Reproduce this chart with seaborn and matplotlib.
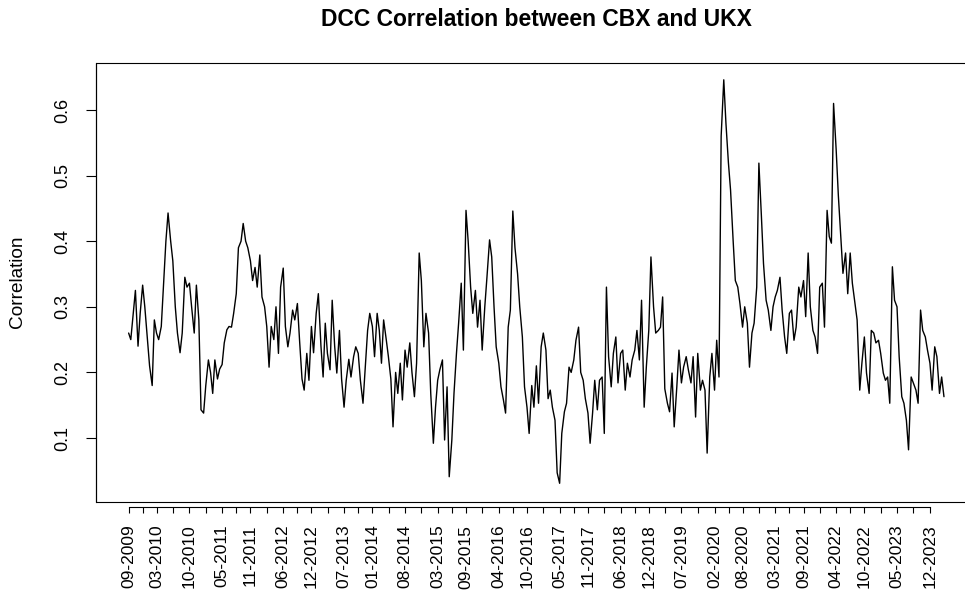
import pandas as pd
import matplotlib
matplotlib.use('Agg')
import matplotlib.pyplot as plt
import matplotlib.dates as mdates
import seaborn as sns
from matplotlib.patches import Rectangle

# DCC correlation, one value every half month from 09-2009
start_date = '2009-09-01'
correlation = [
    0.26, 0.25, 0.29, 0.325, 0.24, 0.29, 0.333, 0.30, 0.25, 0.21,
    0.18, 0.28, 0.26, 0.25, 0.27, 0.33, 0.40, 0.443, 0.40, 0.37,
    0.30, 0.26, 0.23, 0.26, 0.345, 0.33, 0.336, 0.30, 0.26, 0.333,
    0.28, 0.143, 0.138, 0.18, 0.219, 0.20, 0.168, 0.219, 0.19, 0.205,
    0.212, 0.245, 0.265, 0.27, 0.269, 0.29, 0.32, 0.39, 0.40, 0.427,
    0.40, 0.39, 0.37, 0.34, 0.36, 0.33,
    0.379, 0.315, 0.30, 0.27, 0.208, 0.27, 0.25, 0.30, 0.229, 0.33,
    0.359, 0.27, 0.239, 0.26, 0.295, 0.28, 0.305, 0.249, 0.19, 0.173,
    0.229, 0.188, 0.27, 0.23, 0.29, 0.32, 0.24, 0.193, 0.275, 0.229,
    0.204, 0.31, 0.24, 0.199, 0.264, 0.19, 0.147, 0.188, 0.22, 0.193,
    0.224, 0.239, 0.229, 0.188, 0.153, 0.204, 0.264, 0.29, 0.27, 0.224,
    0.29, 0.264, 0.214, 0.28, 0.25, 0.224, 0.19, 0.117,
    0.20, 0.168, 0.214, 0.158, 0.234, 0.208, 0.245, 0.20, 0.163, 0.214,
    0.382, 0.34, 0.239, 0.29, 0.26, 0.168, 0.092, 0.147, 0.188, 0.204,
    0.219, 0.097, 0.178, 0.041, 0.097, 0.168, 0.229, 0.275, 0.336, 0.234,
    0.447, 0.40, 0.33, 0.29, 0.325, 0.269, 0.31, 0.234, 0.30, 0.345,
    0.402, 0.376, 0.30, 0.239, 0.214, 0.178, 0.158, 0.138, 0.269, 0.295,
    0.446, 0.39, 0.35, 0.30, 0.254, 0.178, 0.147, 0.107, 0.18, 0.147,
    0.21, 0.153, 0.239, 0.26, 0.234, 0.16, 0.173, 0.147,
    0.127, 0.047, 0.031, 0.107, 0.14, 0.153, 0.208, 0.20, 0.219, 0.249,
    0.269, 0.20, 0.188, 0.16, 0.138, 0.092, 0.138, 0.188, 0.143, 0.188,
    0.193, 0.107, 0.33, 0.224, 0.178, 0.229, 0.254, 0.184, 0.229, 0.234,
    0.173, 0.214, 0.193, 0.219, 0.234, 0.264, 0.219, 0.31, 0.147, 0.208,
    0.264, 0.376, 0.30, 0.26, 0.264, 0.269, 0.315,
    0.175, 0.153, 0.14, 0.199, 0.117, 0.178, 0.234, 0.184, 0.208, 0.224,
    0.204, 0.184, 0.224, 0.132, 0.229, 0.173, 0.188, 0.173, 0.077, 0.193,
    0.229, 0.173, 0.249, 0.193, 0.56, 0.646, 0.58, 0.52, 0.478, 0.40,
    0.34, 0.33, 0.305, 0.269, 0.30, 0.275, 0.208, 0.26, 0.275, 0.33,
    0.519, 0.44, 0.366, 0.31, 0.295, 0.264, 0.30, 0.315, 0.325, 0.345,
    0.295, 0.254, 0.229, 0.29, 0.295, 0.249,
    0.269, 0.33, 0.315, 0.34, 0.285, 0.382, 0.30, 0.264, 0.254, 0.229,
    0.33, 0.336, 0.269, 0.447, 0.407, 0.397, 0.61, 0.539, 0.47, 0.407,
    0.351, 0.382, 0.32, 0.382, 0.336, 0.305, 0.28, 0.173, 0.214, 0.254,
    0.199, 0.168, 0.264, 0.26, 0.245, 0.249, 0.229, 0.199, 0.188, 0.193,
    0.153, 0.361, 0.31, 0.30, 0.224, 0.163, 0.153, 0.127, 0.082, 0.193,
    0.184, 0.173, 0.153, 0.295, 0.264, 0.254, 0.234, 0.214, 0.173, 0.239,
    0.224, 0.168, 0.193, 0.163,
]

# labelled ticks on the x axis (an unlabelled tick sits between each pair)
tick_labels = [
    '09-2009', '03-2010', '10-2010', '05-2011', '11-2011', '06-2012', '12-2012',
    '07-2013', '01-2014', '08-2014', '03-2015', '09-2015', '04-2016', '10-2016',
    '05-2017', '11-2017', '06-2018', '12-2018', '07-2019', '02-2020', '08-2020',
    '03-2021', '09-2021', '04-2022', '10-2022', '05-2023', '12-2023',
]
y_ticks = [0.1, 0.2, 0.3, 0.4, 0.5, 0.6]

dates = pd.date_range(start_date, periods=len(correlation), freq='SMS')
df = pd.DataFrame({'date': dates, 'corr': correlation})

sns.set_style('ticks')
plt.rcParams['font.family'] = ['Liberation Sans', 'DejaVu Sans']
plt.rcParams.update({'text.color': 'black', 'axes.labelcolor': 'black',
                     'xtick.color': 'black', 'ytick.color': 'black'})

fig = plt.figure(figsize=(9.65, 5.97), dpi=100)
ax = fig.add_axes([0.0995, 0.1596, 0.9125, 0.7353])

sns.lineplot(data=df, x='date', y='corr', color='black', linewidth=1.0,
             estimator=None, ax=ax)

# R style limits: 4% padding on both sides
pad = (dates[-1] - dates[0]) * 0.04
ax.set_xlim(dates[0] - pad, dates[-1] + pad)
ax.set_ylim(0.0029, 0.672)

major = pd.to_datetime(tick_labels, format='%m-%Y')
minor = major[:-1] + (major[1:] - major[:-1]) / 2
ax.set_xticks(major)
ax.set_xticklabels(tick_labels)
ax.set_xticks(minor, minor=True)
ax.tick_params(axis='x', which='both', direction='out', length=4.5, width=0.8,
               color='black', pad=8, labelrotation=90, labelsize=12.5)

ax.set_yticks(y_ticks)
ax.set_yticklabels([f'{v:.1f}' for v in y_ticks])
ax.tick_params(axis='y', direction='out', length=7, width=0.8, color='black',
               pad=11, labelrotation=90, labelsize=13)
plt.setp(ax.get_yticklabels(), va='center')

# box around the plot, axis line drawn a little below it
for s in ax.spines.values():
    s.set_linewidth(0.8)
    s.set_color('black')
ax.spines['top'].set_visible(False)
ax.spines['right'].set_visible(False)
ax.spines['bottom'].set_position(('outward', 4))
ax.spines['bottom'].set_bounds(mdates.date2num(major[0]), mdates.date2num(major[-1]))
ax.add_patch(Rectangle((0, 0), 1, 1, transform=ax.transAxes, fill=False,
                       lw=0.8, edgecolor='black', clip_on=False))

ax.set_xlabel('')
ax.set_ylabel('Correlation', fontsize=13.7, labelpad=20)
fig.text(0.5558, 1 - 20 / 597, 'DCC Correlation between CBX and UKX',
         ha='center', va='center', fontsize=16.5, fontweight='bold')

fig.savefig('out.png', dpi=100)
